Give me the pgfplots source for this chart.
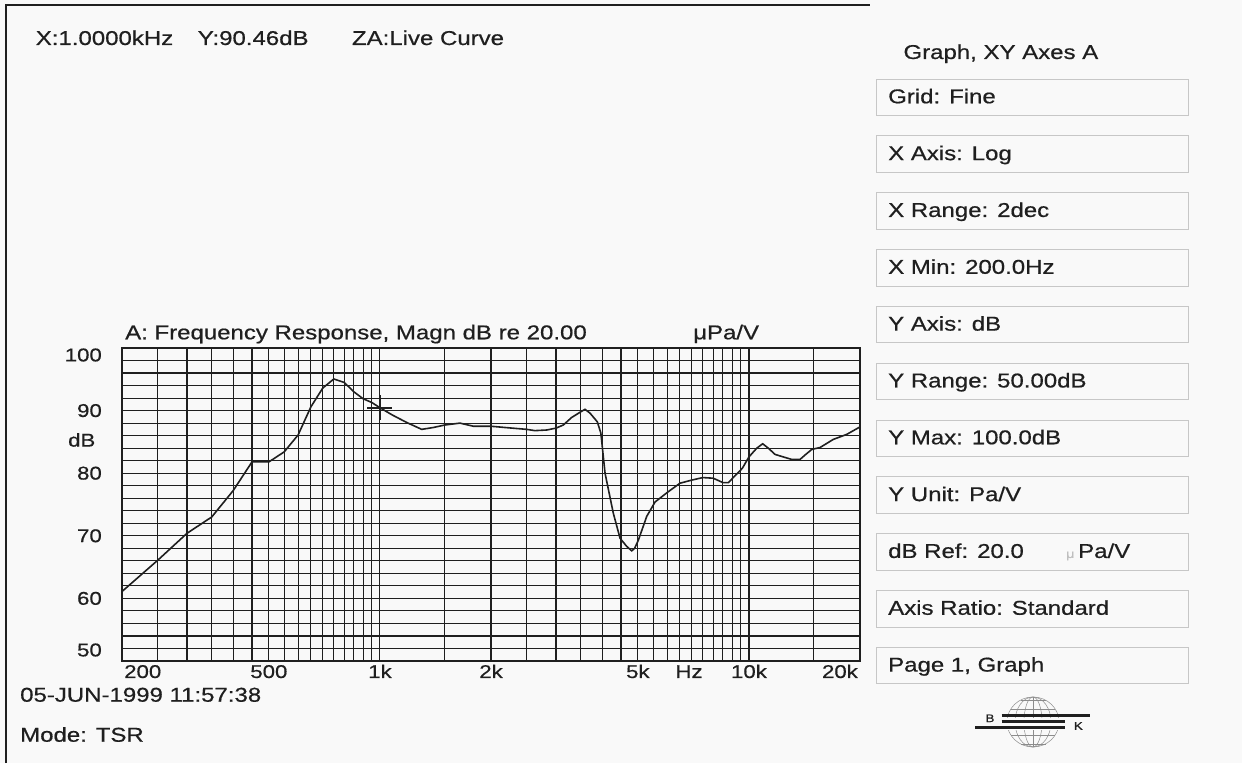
\documentclass[border=0pt]{standalone}
\usepackage{fontspec}
\setmainfont{Liberation Sans}[FakeStretch=1.2, FakeBold=0.6]
\usepackage{pgfplots}
\pgfplotsset{compat=1.18}

\definecolor{ink}{gray}{0.12}
\definecolor{paper}{gray}{0.975}
\definecolor{boxline}{gray}{0.78}

\begin{document}
\begin{tikzpicture}[x=1pt,y=1pt,
    lbl/.style={font=\fontsize{20}{24}\selectfont, text=ink, inner sep=0pt},
    tl/.style={font=\fontsize{18.5}{22}\selectfont, text=ink, inner sep=0pt}]
\useasboundingbox (0,0) rectangle (1242,763);
\fill[paper] (0,0) rectangle (1242,763);

% scanned page edge
\draw[line width=2.5pt, ink] (6,0) -- (6,758) -- (870,758);

% header line
\node[lbl, anchor=base west] at (35.6,763-45) {X:1.0000kHz};
\node[lbl, anchor=base west] at (197.6,763-45) {Y:90.46dB};
\node[lbl, anchor=base west] at (351.8,763-45) {ZA:Live Curve};

% plot title
\node[lbl, anchor=base west] at (125,763-339.3) {A: Frequency Response, Magn dB re 20.00};
\node[lbl, anchor=base west] at (693,763-339.3) {μPa/V};

\begin{axis}[
    at={(122pt,102pt)}, anchor=south west,
    scale only axis, width=738pt, height=313pt,
    xmode=log, xmin=200, xmax=20000, ymin=50, ymax=100,
    clip mode=individual,
    axis line style={ink, line width=1.3pt},
    xtick={500,1000,2000,5000,10000},
    xticklabels={500,1k,2k,5k,10k},
    minor xtick={250,300,350,400,450,550,600,650,700,750,800,850,900,950,
                 1500,2500,3000,3500,4000,4500,5500,6000,6500,7000,7500,8000,8500,9000,9500,15000},
    ytick={60,70,80,90},
    minor ytick={52,54,56,58,62,64,66,68,72,74,76,78,82,84,86,88,92,94,96,98},
    grid=both,
    major grid style={ink, line width=1.1pt},
    minor grid style={ink, line width=1.1pt},
    major tick length=0pt, minor tick length=0pt,
    /pgf/number format/assume math mode=true,
    tick label style={tl},
    xticklabel style={anchor=base},
    xticklabel shift=17pt,
    yticklabel style={anchor=east},
    yticklabel shift=20pt,
  ]
  \addplot[ink, line width=1.6pt] coordinates {
    (200,61.1) (250,66.1) (300,70.4) (350,73.0) (400,77.2) (450,81.8)
    (500,81.8) (550,83.4) (600,86.1) (650,90.6) (700,93.6) (750,95.05)
    (800,94.5) (850,93.0) (900,91.9) (950,91.3) (1000,90.46) (1080,89.3)
    (1182,88.1) (1298,87.0) (1395,87.3) (1500,87.7) (1648,88.0) (1792,87.5)
    (2000,87.5) (2183,87.3) (2500,87.0) (2630,86.8) (2830,86.9) (3000,87.2)
    (3140,87.7) (3308,88.9) (3500,89.8) (3595,90.2) (3709,89.6) (3883,88.2)
    (3970,86.4) (4074,80.0) (4290,73.6) (4474,69.6) (4665,68.3) (4813,67.6)
    (4900,68.0) (5015,69.3) (5284,73.1) (5566,75.4) (6000,76.9) (6503,78.4)
    (7000,78.9) (7500,79.3) (8000,79.2) (8500,78.5) (8800,78.5) (9100,79.4)
    (9600,80.8) (10000,82.6) (10500,84.0) (10895,84.7) (11285,84.0) (11770,83.0)
    (12390,82.6) (13060,82.2) (13755,82.2) (14190,82.9) (14800,83.8) (15580,84.1)
    (16930,85.4) (18410,86.2) (20000,87.4)
  };
  % cursor at X:1.0000kHz, Y:90.46dB
  \addplot[only marks, mark=+, mark size=12.5pt, mark options={ink, line width=1.6pt}]
    coordinates {(1000,90.46)};
  % end tick labels set inward, as on the printout
  \node[tl, anchor=base west] at (axis cs:200,50) [yshift=-17pt, xshift=2pt] {200};
  \node[tl, anchor=base east] at (axis cs:20000,50) [yshift=-17pt, xshift=-2pt] {20k};
  \node[tl, anchor=base] at (axis cs:6880,50) [yshift=-17pt] {Hz};
  \node[tl, anchor=east] at (axis cs:200,100) [xshift=-20pt, yshift=-7pt] {100};
  \node[tl, anchor=east] at (axis cs:200,50) [xshift=-20pt, yshift=11pt] {50};
\end{axis}

\node[tl, anchor=west] at (68,763-440) {dB};

% footer
\node[lbl, anchor=base west] at (20,763-701.7) {05-JUN-1999 11:57:38};
\node[lbl, anchor=base west] at (20,763-741.7) {Mode: TSR};

% settings panel
\node[lbl, anchor=base west] at (903.3,763-59) {Graph, XY Axes A};
\foreach \t [count=\i from 0] in {Grid: Fine,X Axis: Log,X Range: 2dec,X Min: 200.0Hz,
    Y Axis: dB,Y Range: 50.00dB,Y Max: 100.0dB,Y Unit: Pa/V,dB Ref: 20.0,
    Axis Ratio: Standard,{Page 1, Graph}} {
  \pgfmathsetmacro\tp{79+56.83*\i}
  \draw[boxline, line width=0.8pt] (876.7,763-\tp) rectangle (1188,763-\tp-36.5);
  \node[lbl, anchor=base west] at (888,763-\tp-24.3) {\t};
}
\pgfmathsetmacro\tp{79+56.83*8}
\node[anchor=base west, inner sep=0pt, text=black!25, font=\fontsize{12}{14}\selectfont]
  at (1066,763-\tp-24.3) {μ};
\node[lbl, anchor=base west] at (1078,763-\tp-24.3) {Pa/V};

% B&K logo
\begin{scope}[shift={(1033,763-722)}]
  \draw[black!45, line width=0.5pt] (0,0) ellipse (26 and 25);
  \draw[black!45, line width=0.5pt] (0,0) ellipse (9 and 25);
  \draw[black!45, line width=0.5pt] (0,0) ellipse (18 and 25);
  \draw[black!45, line width=0.5pt] (0,-25) -- (0,25);
  \draw[black!45, line width=0.5pt] (-22,13) -- (22,13) (-22,-13) -- (22,-13);
  \draw[black!45, line width=0.5pt] (-12.5,22) -- (12.5,22) (-12.5,-22) -- (12.5,-22);
  \fill[paper] (-31,4) rectangle (57,-8);
  \draw[ink, line width=3pt] (-31.3,6.3) -- (57,6.3);
  \draw[ink, line width=3pt] (-31.3,0.3) -- (32,0.3);
  \draw[ink, line width=3pt] (-58,-5.7) -- (32,-5.7);
  \node[inner sep=0pt, text=ink, font=\fontsize{11}{12}\selectfont] at (-43,3.7) {B};
  \node[inner sep=0pt, text=ink, font=\fontsize{11}{12}\selectfont] at (45.3,-4) {K};
\end{scope}
\end{tikzpicture}
\end{document}
